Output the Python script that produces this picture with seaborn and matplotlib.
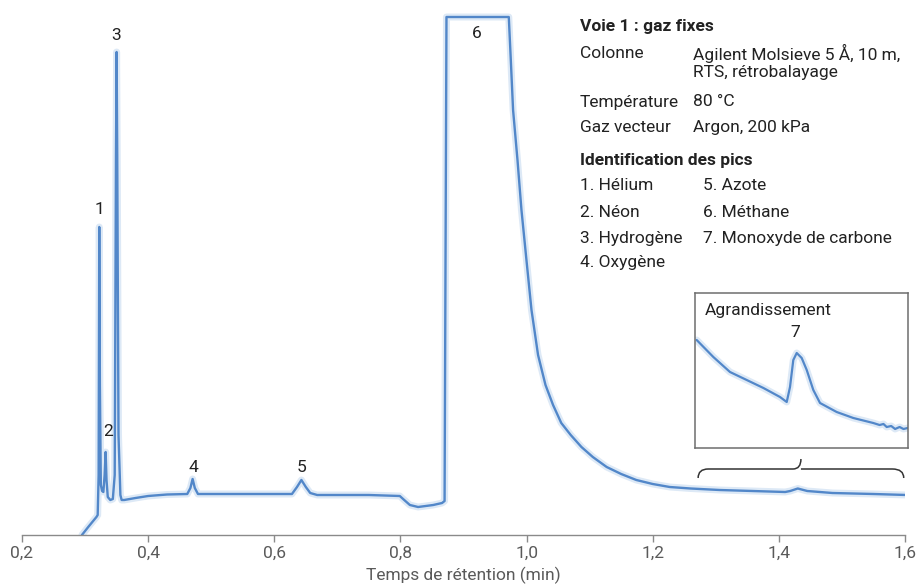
import numpy as np
import pandas as pd
import matplotlib
matplotlib.use("Agg")
import matplotlib.pyplot as plt
from matplotlib.path import Path
from matplotlib.patches import PathPatch
import seaborn as sns

# Chromatogram: retention time (min) and signal (arbitrary units)
time_min = [0.295, 0.305, 0.318, 0.320, 0.3215, 0.3225, 0.3235, 0.325, 0.327, 0.329,
            0.331, 0.3326, 0.334, 0.336, 0.340, 0.344, 0.347, 0.349, 0.350, 0.351,
            0.353, 0.356, 0.358, 0.362, 0.38, 0.40, 0.43, 0.462, 0.467, 0.4705,
            0.474, 0.479, 0.55, 0.628, 0.636, 0.643, 0.650, 0.657, 0.668, 0.75,
            0.799, 0.806, 0.815, 0.828, 0.852, 0.866, 0.870, 0.873, 0.9718, 0.975,
            0.9786, 0.9856, 0.9919, 0.9998, 1.0078, 1.0182, 1.030, 1.042, 1.055, 1.070,
            1.087, 1.105, 1.127, 1.15, 1.174, 1.20, 1.227, 1.26, 1.306, 1.41,
            1.418, 1.43, 1.445, 1.485, 1.55, 1.6025]
signal = [0, 8, 18, 20, 60, 308, 150, 50, 44, 43,
          60, 83, 55, 38, 35, 36, 60, 380, 483, 380,
          100, 40, 35, 35, 37, 39, 40.5, 41, 47, 56,
          47, 41, 41, 41, 48, 55, 48, 42, 40, 40,
          39, 35, 30, 28, 30, 32, 34, 518, 518, 475,
          425, 375, 325, 275, 225, 180, 150, 130, 112, 100,
          88, 78, 68, 61, 55, 51, 48, 46.5, 45, 43,
          44, 46.5, 44, 42, 41, 40]

# Enlarged view of peak 7 (inset), read separately
zoom_time = [1.2726, 1.2984, 1.3242, 1.3501, 1.3760, 1.4017, 1.4121, 1.4172, 1.4223, 1.4276,
             1.4353, 1.4431, 1.4533, 1.4637, 1.4895, 1.5153, 1.5462, 1.5560, 1.5620, 1.5670,
             1.5740, 1.5800, 1.5870, 1.5930, 1.5995]
zoom_signal = [108, 91, 76, 68, 60, 51, 46, 61, 88, 95,
               90, 78, 58, 45, 36, 30, 25, 23, 24, 21,
               22, 19, 21, 19, 20]
zoom_range = (1.27, 1.60)

# Peak labels: number, time, label height
peak_ids = ["1", "2", "3", "4", "5", "6"]
peak_times = [0.322, 0.3363, 0.349, 0.471, 0.6437, 0.9206]
peak_label_y = [325, 103, 500, 68, 68, 502]

tick_values = [0.2, 0.4, 0.6, 0.8, 1.0, 1.2, 1.4, 1.6]
tick_labels = ["0,2", "0,4", "0,6", "0,8", "1,0", "1,2", "1,4", "1,6"]

sns.set_theme(style="white")
plt.rcParams["font.family"] = ["Roboto", "DejaVu Sans"]

line_color = "#5287c9"
text_color = "#222222"
grey = "#5a5a5a"
fs = 12.5

df = pd.DataFrame({"t": time_min, "s": signal})
dz = pd.DataFrame({"t": zoom_time, "s": zoom_signal})

fig = plt.figure(figsize=(9.22, 5.87), dpi=100)
W, H = 922, 587
ax = fig.add_axes([22 / W, 52 / H, 883 / W, 525 / H])

# soft halo + main trace
ax.plot(df["t"], df["s"], color="#dde9f6", lw=5, solid_joinstyle="round", zorder=1)
sns.lineplot(data=df, x="t", y="s", ax=ax, color=line_color, lw=1.7,
             estimator=None, sort=False, zorder=2)

ax.set_xlim(0.2, 1.6)
ax.set_ylim(0, 525)
for side in ["left", "right", "top"]:
    ax.spines[side].set_visible(False)
ax.spines["bottom"].set_color("#8a8a8a")
ax.spines["bottom"].set_linewidth(1.0)
ax.set_yticks([])
ax.set_xticks(tick_values)
ax.set_xticklabels(tick_labels)
ax.tick_params(axis="x", direction="out", length=5, width=1, color="#8a8a8a",
               labelsize=fs, labelcolor=grey, pad=3, bottom=True)
ax.set_xlabel("Temps de rétention (min)", fontsize=fs, color=grey, labelpad=4)
ax.set_ylabel("")

for pid, pt, py in zip(peak_ids, peak_times, peak_label_y):
    ax.text(pt, py, pid, ha="center", va="center", fontsize=fs, color=text_color)

# curly brace under the enlarged region
t0, t1 = zoom_range
tm = (t0 + t1) / 2
yb, yh, yt = 57, 66, 76
dx = 0.018
verts = [(t0 + 0.002, yb), (t0 + 0.002, yh), (t0 + dx, yh),
         (tm - dx * 0.7, yh), (tm, yh), (tm, yt),
         (tm, yh), (tm + dx * 0.7, yh),
         (t1 - 0.002 - dx, yh), (t1 - 0.002, yh), (t1 - 0.002, yb)]
codes = [Path.MOVETO, Path.CURVE3, Path.CURVE3,
         Path.LINETO, Path.CURVE3, Path.CURVE3,
         Path.MOVETO, Path.LINETO,
         Path.LINETO, Path.CURVE3, Path.CURVE3]
ax.add_patch(PathPatch(Path(verts, codes), fill=False, edgecolor="#333333", lw=1.1))

# inset with the enlarged peak 7
axi = fig.add_axes([695 / W, (H - 448) / H, 213 / W, 155 / H])
axi.plot(dz["t"], dz["s"], color="#dde9f6", lw=5, solid_joinstyle="round", zorder=1)
sns.lineplot(data=dz, x="t", y="s", ax=axi, color=line_color, lw=1.6,
             estimator=None, sort=False, zorder=2)
axi.set_xlim(zoom_range)
axi.set_ylim(0, 155)
axi.set_xticks([])
axi.set_yticks([])
axi.set_xlabel("")
axi.set_ylabel("")
for sp in axi.spines.values():
    sp.set_visible(True)
    sp.set_color("#6e6e6e")
    sp.set_linewidth(1.1)
axi.text(0.047, 0.89, "Agrandissement", transform=axi.transAxes, ha="left",
         va="center", fontsize=fs, color=text_color)
axi.text(1.425, 116, "7", ha="center", va="center", fontsize=fs, color=text_color)

# conditions block
def fx(px):
    return px / W

def fy(py):
    return 1 - py / H

fig.text(fx(580), fy(27), "Voie 1 : gaz fixes", fontsize=fs, fontweight="bold",
         color=text_color, va="center")
rows = [("Colonne", "Agilent Molsieve 5 Å, 10 m,", 53),
        ("", "RTS, rétrobalayage", 73),
        ("Température", "80 °C", 102),
        ("Gaz vecteur", "Argon, 200 kPa", 128)]
for lab, val, py in rows:
    fig.text(fx(580), fy(py), lab, fontsize=fs, color=text_color, va="center")
    fig.text(fx(693), fy(py), val, fontsize=fs, color=text_color, va="center")

fig.text(fx(580), fy(160), "Identification des pics", fontsize=fs, fontweight="bold",
         color=text_color, va="center")
left_names = ["1. Hélium", "2. Néon", "3. Hydrogène", "4. Oxygène"]
right_names = ["5. Azote", "6. Méthane", "7. Monoxyde de carbone"]
row_y = [186, 212, 238, 263]
for name, py in zip(left_names, row_y):
    fig.text(fx(580), fy(py), name, fontsize=fs, color=text_color, va="center")
for name, py in zip(right_names, row_y):
    fig.text(fx(703), fy(py), name, fontsize=fs, color=text_color, va="center")

fig.savefig("out.png", dpi=100, facecolor="white")
